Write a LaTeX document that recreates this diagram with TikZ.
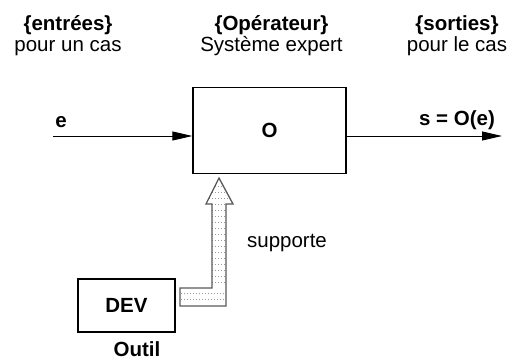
\documentclass[tikz,border=0pt]{standalone}
\usepackage{fontspec}
\setmainfont{Liberation Sans}
\usetikzlibrary{arrows.meta}
\begin{document}
\begin{tikzpicture}[x=1pt,y=-1pt,
  txt/.style={inner sep=0pt,anchor=base,font=\fontsize{20.5}{24}\selectfont},
  btxt/.style={txt,font=\fontsize{20.5}{24}\selectfont\bfseries},
  boxst/.style={draw,line width=1.3pt,inner sep=0pt,font=\fontsize{20.5}{24}\selectfont\bfseries},
  flow/.style={line width=0.9pt,-{Triangle[length=20pt,width=9pt]}}]
\useasboundingbox (0,0) rectangle (514,362);
% column headers
\node[btxt] (ent1) at (68,30.7) {\{entrées\}};
\node[txt]  (ent2) at (68,51) {pour un cas};
\node[btxt] (op1) at (271.5,30.7) {\{Opérateur\}};
\node[txt]  (op2) at (271.5,51) {Système expert};
\node[btxt] (sor1) at (457,30.7) {\{sorties\}};
\node[txt]  (sor2) at (457,51) {pour le cas};
% operator box
\node[boxst,minimum width=153pt,minimum height=86pt] (O) at (269.5,130.5) {O};
% input / output
\coordinate (ein) at (53,136);
\coordinate (sout) at (502,136);
\draw[flow] (ein) -- (O.west |- ein);
\draw[flow] (O.east |- sout) -- (sout);
\node[btxt] (elab) at (61,127) {e};
\node[btxt] (slab) at (457,125) {s = O(e)};
% DEV box
\node[boxst,minimum width=97pt,minimum height=53pt] (DEV) at (126.5,305.5) {DEV};
\node[btxt] (outil) at (137,356.5) {Outil};
% hollow arrow
\path[fill=white] (219,178) -- (233,204) -- (226,204) -- (226,306) -- (180,306) -- (180,288) -- (212,288) -- (212,204) -- (206,204) -- cycle;
\begin{scope}
\clip (219,178) -- (233,204) -- (226,204) -- (226,306) -- (180,306) -- (180,288) -- (212,288) -- (212,204) -- (206,204) -- cycle;
\foreach \yy in {186,192,...,282} {\draw[gray!80,line width=0.6pt,dash pattern=on 1pt off 2pt] (200,\yy) -- (240,\yy);}
\foreach \yy in {293,299} {\draw[gray!80,line width=0.6pt,dash pattern=on 1pt off 2pt] (178,\yy) -- (240,\yy);}
\end{scope}
\draw[gray!70!black,line width=1.3pt,line join=miter] (219,178) -- (233,204) -- (226,204) -- (226,306) -- (180,306) -- (180,288) -- (212,288) -- (212,204) -- (206,204) -- cycle;
\node[txt] (supp) at (287,247) {supporte};
\end{tikzpicture}
\end{document}
